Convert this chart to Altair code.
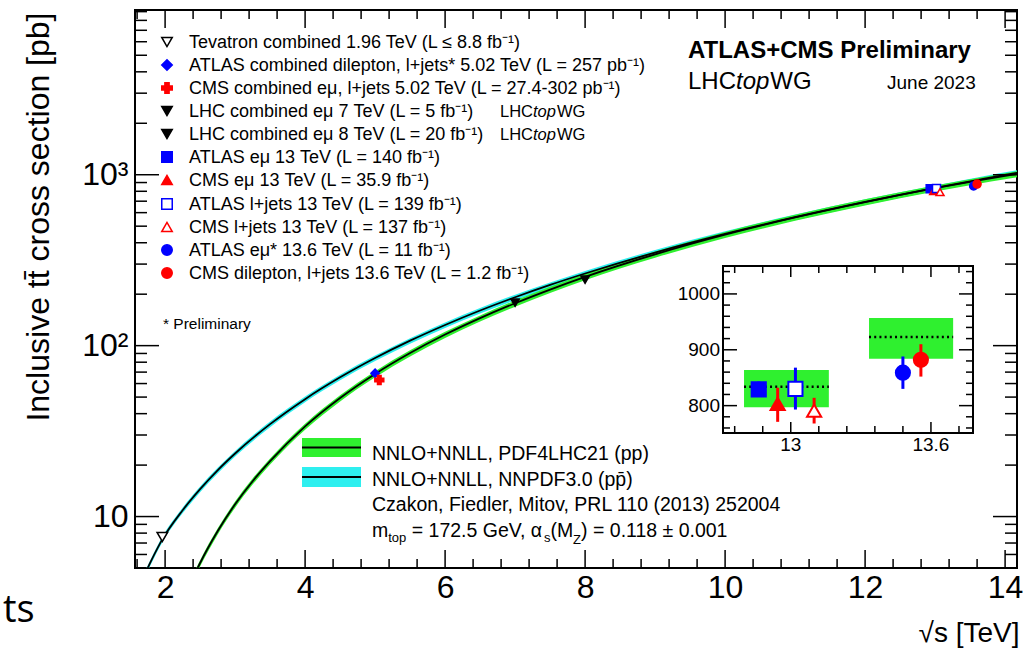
import altair as alt
import pandas as pd

# ======================= data =======================
# NNLO+NNLL, PDF4LHC21, pp
pp_sqrts = [2.3, 2.5, 2.75, 3.0, 3.25, 3.5, 4.0, 4.5, 5.0, 5.5, 6.0, 6.5, 7.0, 7.5, 8.0,
            9.0, 10.0, 11.0, 12.0, 13.0, 13.6, 14.0, 14.2]
pp_xsec = [3.57, 5.35, 8.2, 11.8, 16.1, 21.1, 33.7, 49.4, 68.3, 90.5, 116.1, 144.9, 177.1, 212.9,
           252.7, 342.4, 446.1, 562.5, 692.0, 834.0, 924.0, 985.0, 1016.0]
pp_lo = [3.41, 5.11, 7.83, 11.27, 15.38, 20.15, 32.18, 47.18, 65.23, 86.43, 110.9, 138.4, 169.1,
         203.3, 241.3, 327.0, 426.0, 537.2, 660.9, 797.0, 884.0, 941.0, 970.0]
pp_hi = [3.70, 5.55, 8.50, 12.24, 16.70, 21.88, 34.95, 51.23, 70.83, 93.85, 120.4, 150.3, 183.7,
         220.8, 262.1, 355.1, 462.6, 583.3, 717.6, 864.0, 957.0, 1021.0, 1054.0]

# NNLO+NNLL, NNPDF3.0, p-pbar
ppbar_sqrts = [1.7, 1.8, 1.96, 2.25, 2.5, 2.75, 3.0, 3.5, 4.0, 4.5, 5.0, 5.5, 6.0, 6.5, 7.0,
               7.5, 8.0, 9.0, 10.0, 11.0, 12.0, 13.0, 13.6, 14.0, 14.2]
ppbar_xsec = [4.5, 5.5, 7.35, 10.88, 14.47, 18.64, 23.38, 34.73, 48.64, 65.24, 84.6, 106.9, 132.1,
              160.5, 191.9, 226.6, 264.3, 350.5, 450.4, 564.5, 693.4, 837.0, 931.1, 997.7, 1030.6]
ppbar_lo = [4.32, 5.28, 7.06, 10.44, 13.89, 17.89, 22.44, 33.34, 46.69, 62.63, 81.2, 102.6, 126.8,
            154.1, 184.2, 217.5, 253.7, 336.5, 432.4, 541.9, 665.7, 803.5, 893.9, 957.8, 989.4]
ppbar_hi = [4.66, 5.69, 7.61, 11.26, 14.98, 19.29, 24.2, 35.95, 50.34, 67.52, 87.56, 110.6, 136.7,
            166.1, 198.6, 234.5, 273.6, 362.8, 466.2, 584.3, 717.7, 866.3, 963.7, 1032.6, 1066.7]

# measurements
meas_labels = [
    "Tevatron combined 1.96 TeV (L ≤ 8.8 fb⁻¹)",
    "ATLAS combined dilepton, l+jets* 5.02 TeV (L = 257 pb⁻¹)",
    "CMS combined eμ, l+jets 5.02 TeV (L = 27.4-302 pb⁻¹)",
    "LHC combined eμ 7 TeV (L = 5 fb⁻¹)",
    "LHC combined eμ 8 TeV (L = 20 fb⁻¹)",
    "ATLAS eμ 13 TeV (L = 140 fb⁻¹)",
    "CMS eμ 13 TeV (L = 35.9 fb⁻¹)",
    "ATLAS l+jets 13 TeV (L = 139 fb⁻¹)",
    "CMS l+jets 13 TeV (L = 137 fb⁻¹)",
    "ATLAS eμ* 13.6 TeV (L = 11 fb⁻¹)",
    "CMS dilepton, l+jets 13.6 TeV (L = 1.2 fb⁻¹)",
]
meas_sqrts = [1.96, 5.0, 5.06, 7.0, 8.0, 12.93, 12.98, 13.02, 13.07, 13.55, 13.6]
meas_xsec = [7.6, 69.0, 63.0, 178.5, 243.3, 829.0, 803.0, 830.0, 791.0, 859.0, 882.0]

# inset (zoom on 13 and 13.6 TeV)
inset_index = [5, 6, 7, 8, 9, 10]
inset_pos = [12.863, 12.944, 13.02, 13.10, 13.48, 13.557]
inset_xsec = [829.0, 803.0, 830.0, 791.0, 859.0, 882.0]
inset_err_lo = [816.0, 771.0, 793.0, 768.0, 830.0, 852.0]
inset_err_hi = [843.0, 832.0, 868.0, 814.0, 888.0, 910.0]
theory_box_x0 = [12.80, 13.335]
theory_box_x1 = [13.163, 13.695]
theory_box_lo = [797.0, 884.0]
theory_box_hi = [864.0, 957.0]
theory_box_central = [834.0, 923.0]
inset_xlabels = [13.0, 13.6]
inset_xlabel_text = ["13", "13.6"]
inset_ylabels = [800, 900, 1000]

# ======================= styles / layout =======================
BLUE, RED, BLACK, WHITE = "#0000ff", "#ff0000", "#000000", "#ffffff"
GREEN, CYAN = "#2ff02f", "#2eefef"
meas_shape = ["triangle-down", "diamond", "cross", "triangle-down", "triangle-down", "square",
              "triangle-up", "square", "triangle-up", "circle", "circle"]
meas_fill = [WHITE, BLUE, RED, BLACK, BLACK, BLUE, RED, WHITE, WHITE, BLUE, RED]
meas_stroke = [BLACK, BLUE, RED, BLACK, BLACK, BLUE, RED, BLUE, RED, BLUE, RED]
meas_size_main = [110, 70, 80, 70, 70, 64, 64, 64, 64, 64, 64]

W, H = 882, 558
PAD = {"left": 135, "top": 10, "right": 13, "bottom": 85}
FONT = "Liberation Sans"

xs = alt.Scale(domain=[1.57, 14.17], nice=False, zero=False)
ys = alt.Scale(type="log", domain=[5, 9200], nice=False)

AX = alt.Axis(values=[2, 4, 6, 8, 10, 12, 14], format="d", labelFontSize=32, labelPadding=4,
              labelColor="black", ticks=False, domain=False, grid=False,
              title="√s [TeV]", titleFontSize=28, titleFontWeight="normal", titleColor="black",
              titleX=W + 2, titleY=73, titleAlign="right", titleBaseline="alphabetic")
AY = alt.Axis(values=[10, 100, 1000],
              labelExpr="datum.value == 1000 ? '10³' : (datum.value == 100 ? '10²' : '10')",
              labelFontSize=32, labelPadding=7, labelColor="black", ticks=False, domain=False,
              grid=False, title="Inclusive tt̄ cross section [pb]", titleFontSize=32,
              titleFontWeight="normal", titleColor="black", titleX=-97, titleY=2,
              titleAlign="right", titleAngle=270, titleBaseline="middle")

# ======================= main panel =======================
def band(sq, lo, hi, color):
    df = pd.DataFrame({"s": sq, "lo": lo, "hi": hi})
    return alt.Chart(df).mark_area(color=color, opacity=1, clip=True, interpolate="monotone").encode(
        x=alt.X("s:Q", scale=xs, axis=AX), y=alt.Y("lo:Q", scale=ys, axis=AY), y2="hi:Q")


def centre_line(sq, c):
    df = pd.DataFrame({"s": sq, "c": c})
    return alt.Chart(df).mark_line(color="black", strokeWidth=1.8, clip=True,
                                   interpolate="monotone").encode(
        x=alt.X("s:Q", scale=xs, axis=AX), y=alt.Y("c:Q", scale=ys, axis=AY))


meas_df = pd.DataFrame({"s": meas_sqrts, "xsec": meas_xsec, "shape": meas_shape,
                        "fill": meas_fill, "stroke": meas_stroke, "size": meas_size_main,
                        "label": meas_labels})
points = alt.Chart(meas_df).mark_point(opacity=1, strokeWidth=1.5).encode(
    x=alt.X("s:Q", scale=xs, axis=AX), y=alt.Y("xsec:Q", scale=ys, axis=AY),
    shape=alt.Shape("shape:N", scale=None), fill=alt.Fill("fill:N", scale=None),
    stroke=alt.Stroke("stroke:N", scale=None), size=alt.Size("size:Q", scale=None))


def frame_ticks_x(vals, length, scale, axis, y_bot, y_top, sw=1.5):
    base = alt.Chart(pd.DataFrame({"v": vals})).encode(x=alt.X("v:Q", scale=scale, axis=axis))
    return [base.mark_rule(color="black", strokeWidth=sw).encode(y=alt.value(y_bot), y2=alt.value(y_bot - length)),
            base.mark_rule(color="black", strokeWidth=sw).encode(y=alt.value(y_top), y2=alt.value(y_top + length))]


def frame_ticks_y(vals, length, scale, axis, x_left, x_right, sw=1.5):
    base = alt.Chart(pd.DataFrame({"v": vals})).encode(y=alt.Y("v:Q", scale=scale, axis=axis))
    return [base.mark_rule(color="black", strokeWidth=sw).encode(x=alt.value(x_left), x2=alt.value(x_left + length)),
            base.mark_rule(color="black", strokeWidth=sw).encode(x=alt.value(x_right), x2=alt.value(x_right - length))]


x_major = [2, 4, 6, 8, 10, 12, 14]
x_minor = [1.6, 2.4, 2.8, 3.2, 3.6, 4.4, 4.8, 5.2, 5.6, 6.4, 6.8, 7.2, 7.6, 8.4, 8.8, 9.2, 9.6,
           10.4, 10.8, 11.2, 11.6, 12.4, 12.8, 13.2, 13.6]
y_major = [10, 100, 1000]
y_minor = [6, 7, 8, 9, 20, 30, 40, 50, 60, 70, 80, 90, 200, 300, 400, 500, 600, 700, 800, 900,
           2000, 3000, 4000, 5000, 6000, 7000, 8000, 9000]

main_layers = [band(ppbar_sqrts, ppbar_lo, ppbar_hi, CYAN), band(pp_sqrts, pp_lo, pp_hi, GREEN),
               centre_line(ppbar_sqrts, ppbar_xsec), centre_line(pp_sqrts, pp_xsec), points]
main_layers += frame_ticks_x(x_major, 18, xs, AX, H, 0)
main_layers += frame_ticks_x(x_minor, 9, xs, AX, H, 0)
main_layers += frame_ticks_y(y_major, 24, ys, AY, 0, W)
main_layers += frame_ticks_y(y_minor, 12, ys, AY, 0, W)
main = alt.layer(*main_layers)

# ======================= inset =======================
IX0, IX1, IY0, IY1 = 588, 838, 423, 256      # inset frame (plot pixels)
ixs = alt.Scale(domain=[12.71, 13.78], range=[IX0, IX1], nice=False, zero=False)
iys = alt.Scale(domain=[751, 1050], range=[IY0, IY1], nice=False, zero=False)

inset_frame = alt.Chart(pd.DataFrame({"a": [0]})).mark_rect(
    fill="white", stroke="black", strokeWidth=2).encode(
    x=alt.value(IX0), x2=alt.value(IX1), y=alt.value(IY1), y2=alt.value(IY0))
tb_df = pd.DataFrame({"x0": theory_box_x0, "x1": theory_box_x1, "lo": theory_box_lo,
                      "hi": theory_box_hi, "c": theory_box_central})
tboxes = alt.Chart(tb_df).mark_rect(color=GREEN, opacity=1).encode(
    x=alt.X("x0:Q", scale=ixs, axis=None), x2="x1:Q",
    y=alt.Y("lo:Q", scale=iys, axis=None), y2="hi:Q")
tcentral = alt.Chart(tb_df).mark_rule(color="black", strokeWidth=2.5, strokeDash=[2, 3.2]).encode(
    x=alt.X("x0:Q", scale=ixs, axis=None), x2="x1:Q", y=alt.Y("c:Q", scale=iys, axis=None))
in_df = pd.DataFrame({"p": inset_pos, "xsec": inset_xsec, "lo": inset_err_lo, "hi": inset_err_hi,
                      "shape": [meas_shape[i] for i in inset_index],
                      "fill": [meas_fill[i] for i in inset_index],
                      "stroke": [meas_stroke[i] for i in inset_index]})
in_err = alt.Chart(in_df).mark_rule(strokeWidth=3).encode(
    x=alt.X("p:Q", scale=ixs, axis=None), y=alt.Y("lo:Q", scale=iys, axis=None), y2="hi:Q",
    color=alt.Color("stroke:N", scale=None))
in_pts = alt.Chart(in_df).mark_point(opacity=1, strokeWidth=2, size=200).encode(
    x=alt.X("p:Q", scale=ixs, axis=None), y=alt.Y("xsec:Q", scale=iys, axis=None),
    shape=alt.Shape("shape:N", scale=None), fill=alt.Fill("fill:N", scale=None),
    stroke=alt.Stroke("stroke:N", scale=None))
in_xlab = alt.Chart(pd.DataFrame({"v": inset_xlabels, "t": inset_xlabel_text})).mark_text(
    fontSize=19, baseline="top", color="black").encode(
    x=alt.X("v:Q", scale=ixs, axis=None), y=alt.value(IY0 + 3), text="t:N")
in_ylab = alt.Chart(pd.DataFrame({"v": inset_ylabels})).mark_text(
    fontSize=19, align="right", baseline="middle", color="black").encode(
    x=alt.value(IX0 - 3), y=alt.Y("v:Q", scale=iys, axis=None), text="v:Q")

ix_major = [13.0, 13.6]
ix_minor = [12.76, 12.88, 13.12, 13.24, 13.36, 13.48, 13.72]
iy_major = [800, 900, 1000]
iy_minor = [760, 780, 820, 840, 860, 880, 920, 940, 960, 980, 1020, 1040]
inset_layers = [inset_frame, tboxes, tcentral, in_err, in_pts, in_xlab, in_ylab]
inset_layers += frame_ticks_x(ix_major, 11, ixs, None, IY0, IY1)
inset_layers += frame_ticks_x(ix_minor, 7, ixs, None, IY0, IY1)
inset_layers += frame_ticks_y(iy_major, 14, iys, None, IX0, IX1)
inset_layers += frame_ticks_y(iy_minor, 7, iys, None, IX0, IX1)
inset = alt.layer(*inset_layers)

# ======================= legends & annotations (page pixel coordinates) =======================
pxs = alt.Scale(domain=[0, 1030], range=[-PAD["left"], 1030 - PAD["left"]], nice=False, zero=False)
pys = alt.Scale(domain=[0, 653], range=[-PAD["top"], 653 - PAD["top"]], nice=False, zero=False)

ARIAL_W = {" ": 278, "=": 584, ".": 278, ",": 278, "(": 333, ")": 333, "±": 549, "α": 578,
           "G": 778, "V": 667, "M": 833, "Z": 611, "L": 556, "H": 722, "C": 722, "W": 944,
           "m": 833, "t": 278, "o": 556, "p": 556, "s": 500, "e": 556}


def tw(s, fs):
    return sum(ARIAL_W.get(c, 556) for c in s) * fs / 1000.0


leg_rows_y = [42, 65, 88, 111, 134, 157, 180, 204, 227, 250, 273]
LEG_MX, LEG_TX, LEG_FS = 167, 189, 18

normal_txt, italic_txt, bold_txt = [], [], []
for lab, yy in zip(meas_labels, leg_rows_y):
    normal_txt.append((lab, LEG_TX, yy + 6, LEG_FS))
for yy in (leg_rows_y[3], leg_rows_y[4]):
    fs = 16.5
    x0 = 500
    normal_txt.append(("LHC", x0, yy + 6, fs))
    italic_txt.append(("top", x0 + tw("LHC", fs), yy + 6, fs))
    normal_txt.append(("WG", x0 + tw("LHC", fs) + tw("top", fs) + 1, yy + 6, fs))
normal_txt.append(("* Preliminary", 163, 329, 15.5))

bold_txt.append(("ATLAS+CMS Preliminary", 688, 58, 24))
fs = 24
normal_txt.append(("LHC", 688, 89, fs))
italic_txt.append(("top", 688 + tw("LHC", fs), 89, fs))
normal_txt.append(("WG", 688 + tw("LHC", fs) + tw("top", fs) + 1, 89, fs))
normal_txt.append(("June 2023", 887, 89, 19))

BL_FS, SUB_FS = 19.5, 13
normal_txt.append(("NNLO+NNLL, PDF4LHC21 (pp)", 372, 460, BL_FS))
normal_txt.append(("NNLO+NNLL, NNPDF3.0 (pp̄)", 372, 486, BL_FS))
normal_txt.append(("Czakon, Fiedler, Mitov, PRL 110 (2013) 252004", 372, 511, BL_FS))
# (text, gap before in em-spaces, baseline shift, font size)
pieces = [("m", 0, 0, BL_FS), ("top", 0, 5, SUB_FS), ("= 172.5 GeV, α", 1, 0, BL_FS),
          ("s", 0, 5, SUB_FS), ("(M", 0, 0, BL_FS), ("Z", 0, 7, SUB_FS),
          (") = 0.118 ± 0.001", 0, 0, BL_FS)]
xcur = 372
for s, gap, dy, f in pieces:
    xcur += gap * tw(" ", BL_FS)
    normal_txt.append((s, xcur, 537 + dy, f))
    xcur += tw(s, f)


def text_layer(rows, **kw):
    df = pd.DataFrame(rows, columns=["t", "x", "y", "fs"])
    return alt.Chart(df).mark_text(align="left", baseline="alphabetic", color="black", **kw).encode(
        x=alt.X("x:Q", scale=pxs, axis=None), y=alt.Y("y:Q", scale=pys, axis=None),
        text="t:N", size=alt.Size("fs:Q", scale=None))


leg_df = pd.DataFrame({"x": [LEG_MX] * len(leg_rows_y), "y": leg_rows_y, "shape": meas_shape,
                       "fill": meas_fill, "stroke": meas_stroke})
leg_pts = alt.Chart(leg_df).mark_point(opacity=1, strokeWidth=1.5, size=110).encode(
    x=alt.X("x:Q", scale=pxs, axis=None), y=alt.Y("y:Q", scale=pys, axis=None),
    shape=alt.Shape("shape:N", scale=None), fill=alt.Fill("fill:N", scale=None),
    stroke=alt.Stroke("stroke:N", scale=None))

tl_df = pd.DataFrame({"x0": [302, 302], "x1": [361, 361], "y0": [438, 467], "y1": [457, 487],
                      "col": [GREEN, CYAN]})
tl_box = alt.Chart(tl_df).mark_rect(opacity=1).encode(
    x=alt.X("x0:Q", scale=pxs, axis=None), x2="x1:Q", y=alt.Y("y0:Q", scale=pys, axis=None),
    y2="y1:Q", color=alt.Color("col:N", scale=None))
tl_df2 = pd.DataFrame({"x0": [302, 302], "x1": [361, 361], "y": [447.5, 477]})
tl_line = alt.Chart(tl_df2).mark_rule(color="black", strokeWidth=2).encode(
    x=alt.X("x0:Q", scale=pxs, axis=None), x2="x1:Q", y=alt.Y("y:Q", scale=pys, axis=None))

ts_txt = text_layer([("ts", 3, 622, 38)], font="Open Sans")

page = alt.layer(leg_pts, tl_box, tl_line, text_layer(normal_txt),
                 text_layer(italic_txt, fontStyle="italic"),
                 text_layer(bold_txt, fontWeight="bold"), ts_txt)

chart = alt.layer(main, inset, page).resolve_scale(
    x="independent", y="independent").properties(
    width=W, height=H, padding=PAD, autosize=alt.AutoSizeParams(type="none")
).configure(font=FONT).configure_view(stroke="black", strokeWidth=2)

chart.save("out.html", embed_options={"renderer": "svg", "actions": False})
